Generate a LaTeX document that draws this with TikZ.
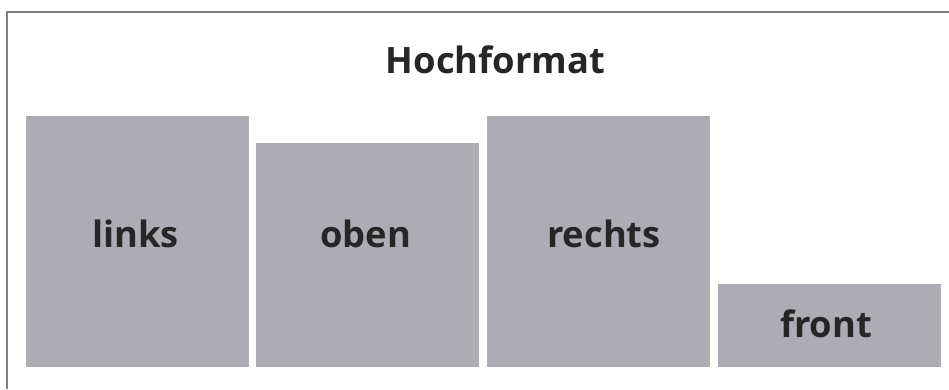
\documentclass[tikz,border=0pt]{standalone}
\usepackage{fontspec}
\setmainfont{Open Sans}
\definecolor{panelgray}{RGB}{173,172,181}
\definecolor{framegray}{RGB}{128,128,128}
\definecolor{inkdark}{RGB}{38,38,38}
\tikzset{
  panel/.style={fill=panelgray, draw=none},
  panellabel/.style={anchor=base, text=inkdark, font=\bfseries\fontsize{31}{31}\selectfont, inner sep=0pt},
}
\begin{document}
\begin{tikzpicture}[x=0.03cm, y=-0.03cm]
\useasboundingbox (0,0) rectangle (949,389);

% frame, top and left only
\draw[line width=1.7pt, framegray] (7,389) -- (7,12) -- (949,12);

\node[font=\bfseries\fontsize{31}{31}\selectfont, text=inkdark, anchor=base, inner sep=0pt] (title) at (495.5,73) {Hochformat};

% the four panels
\fill[panel] (26,116) rectangle (249,367);
\fill[panel] (256,143) rectangle (479,367);
\fill[panel] (487,116) rectangle (710,367);
\fill[panel] (718,284) rectangle (941,367);

\node[panellabel] (links) at (135.5,247) {links};
\node[panellabel] (oben) at (365.5,247) {oben};
\node[panellabel] (rechts) at (604,247) {rechts};
\node[panellabel] (front) at (826,337) {front};
\end{tikzpicture}
\end{document}
